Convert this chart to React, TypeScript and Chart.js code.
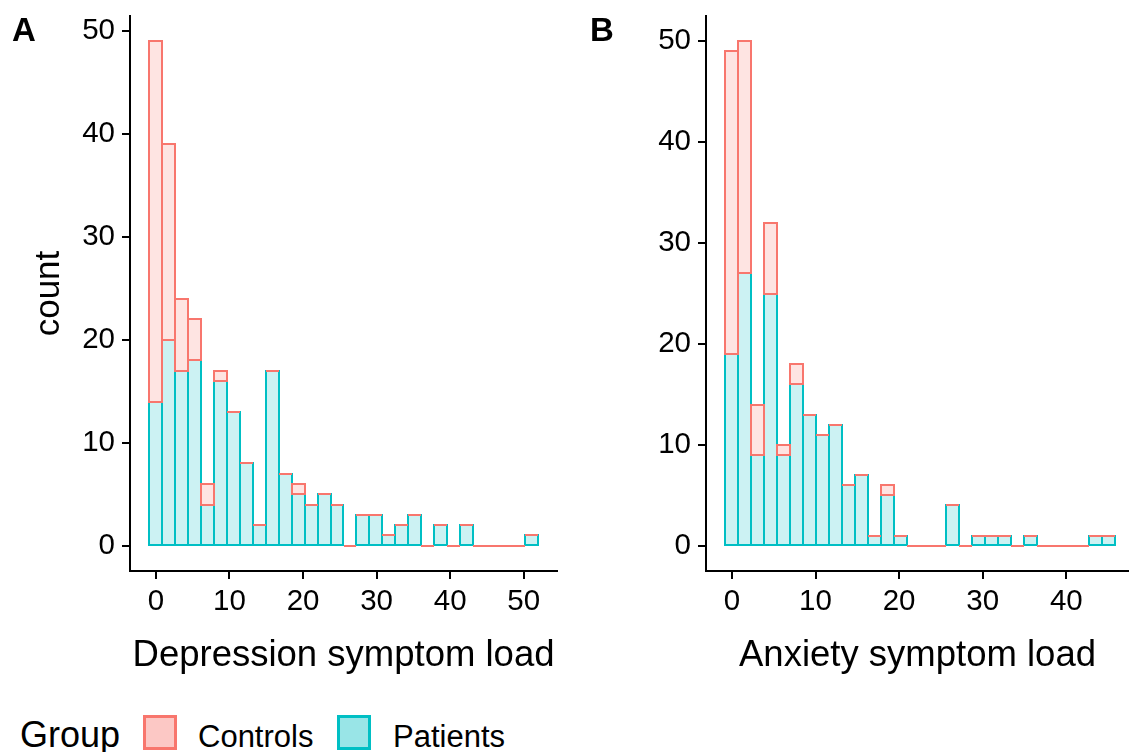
import React, { useEffect, useRef } from "react";
import { Chart, registerables } from "chart.js";

Chart.register(...registerables);

// ---------- data ----------
const GROUPS = ["Controls", "Patients"];

// bin centres (30 bins, ggplot default)
const DEP_BINS = [0, 1.76, 3.52, 5.28, 7.03, 8.79, 10.55, 12.31, 14.07, 15.83, 17.59, 19.34, 21.1, 22.86, 24.62, 26.38, 28.14, 29.9, 31.66, 33.41, 35.17, 36.93, 38.69, 40.45, 42.21, 43.97, 45.72, 47.48, 49.24, 51.0];
const DEP_PATIENTS = [14, 20, 17, 18, 4, 16, 13, 8, 2, 17, 7, 5, 4, 5, 4, 0, 3, 3, 1, 2, 3, 0, 2, 0, 2, 0, 0, 0, 0, 1];
const DEP_CONTROLS = [35, 19, 7, 4, 2, 1, 0, 0, 0, 0, 0, 1, 0, 0, 0, 0, 0, 0, 0, 0, 0, 0, 0, 0, 0, 0, 0, 0, 0, 0];

const ANX_BINS = [0, 1.55, 3.1, 4.66, 6.21, 7.76, 9.31, 10.86, 12.41, 13.97, 15.52, 17.07, 18.62, 20.17, 21.72, 23.28, 24.83, 26.38, 27.93, 29.48, 31.03, 32.59, 34.14, 35.69, 37.24, 38.79, 40.34, 41.9, 43.45, 45.0];
const ANX_PATIENTS = [19, 27, 9, 25, 9, 16, 13, 11, 12, 6, 7, 1, 5, 1, 0, 0, 0, 4, 0, 1, 1, 1, 0, 1, 0, 0, 0, 0, 1, 1];
const ANX_CONTROLS = [30, 23, 5, 7, 1, 2, 0, 0, 0, 0, 0, 0, 1, 0, 0, 0, 0, 0, 0, 0, 0, 0, 0, 0, 0, 0, 0, 0, 0, 0];

const Y_TICKS = [0, 10, 20, 30, 40, 50];
const DEP_X_TICKS = [0, 10, 20, 30, 40, 50];
const ANX_X_TICKS = [0, 10, 20, 30, 40];

const DEP_X_RANGE = [-3.52, 54.52];
const ANX_X_RANGE = [-3.1, 47.5];
const DEP_Y_RANGE = [-2.45, 51.45];
const ANX_Y_RANGE = [-2.5, 52.5];

// ---------- styles ----------
const FONT = "'Liberation Sans', Arial, Helvetica, sans-serif";
const COL_CONTROLS = "#F8766D";
const COL_PATIENTS = "#00BFC4";
const FILL_CONTROLS = "rgba(248,118,109,0.2)";
const FILL_PATIENTS = "rgba(0,191,196,0.2)";

const outlinePlugin = {
  id: "histOutline",
  afterDatasetsDraw(chart: any) {
    const ctx = chart.ctx;
    ctx.save();
    ctx.lineWidth = 2;
    chart.data.datasets.forEach((ds: any, i: number) => {
      const meta = chart.getDatasetMeta(i);
      ctx.strokeStyle = ds.outlineColor;
      meta.data.forEach((el: any) => {
        const { x, y, base, width } = el.getProps(["x", "y", "base", "width"], true);
        const l = Math.round(x - width / 2);
        const r = Math.round(x + width / 2);
        const top = Math.round(Math.min(y, base));
        const bot = Math.round(Math.max(y, base));
        ctx.beginPath();
        if (bot - top < 0.5) {
          ctx.moveTo(l, top);
          ctx.lineTo(r, top);
        } else {
          ctx.rect(l, top, r - l, bot - top);
        }
        ctx.stroke();
      });
    });
    ctx.restore();
  },
};

type PanelProps = {
  bins: number[];
  patients: number[];
  controls: number[];
  xRange: number[];
  yRange: number[];
  xTicks: number[];
  xTitle: string;
  yTitle?: string;
  left: number;
  width: number;
  yAxisWidth: number;
  padRight: number;
};

function Panel(p: PanelProps) {
  const ref = useRef<HTMLCanvasElement | null>(null);
  useEffect(() => {
    if (!ref.current) return;
    const tickFont = { family: FONT, size: 29.5, lineHeight: 1 };
    const gridOpts = {
      drawOnChartArea: false,
      drawTicks: true,
      offset: false,
      tickLength: 8,
      tickWidth: 2,
      lineWidth: 2,
      tickColor: "#000",
      color: "#000",
    };
    const chart = new Chart(ref.current, {
      type: "bar",
      data: {
        datasets: [
          {
            label: GROUPS[1],
            data: p.bins.map((b, i) => ({ x: b, y: p.patients[i] })),
            backgroundColor: FILL_PATIENTS,
            borderWidth: 0,
            barPercentage: 1,
            categoryPercentage: 1,
            stack: "g",
            outlineColor: COL_PATIENTS,
          } as any,
          {
            label: GROUPS[0],
            data: p.bins.map((b, i) => ({ x: b, y: p.controls[i] })),
            backgroundColor: FILL_CONTROLS,
            borderWidth: 0,
            barPercentage: 1,
            categoryPercentage: 1,
            stack: "g",
            outlineColor: COL_CONTROLS,
          } as any,
        ],
      },
      options: {
        animation: false,
        responsive: false,
        events: [],
        layout: { padding: { top: 16, right: p.padRight, left: 0, bottom: 0 } },
        plugins: { legend: { display: false }, tooltip: { enabled: false } },
        scales: {
          x: {
            type: "linear",
            min: p.xRange[0],
            max: p.xRange[1],
            offset: false,
            afterBuildTicks: (s: any) => {
              s.ticks = p.xTicks.map((v) => ({ value: v }));
            },
            afterFit: (s: any) => {
              s.height = 129;
              s.paddingLeft = 0;
              s.paddingRight = 0;
            },
            grid: gridOpts,
            border: { display: true, color: "#000", width: 2 },
            ticks: {
              color: "#000",
              font: tickFont,
              padding: 8,
              maxRotation: 0,
              autoSkip: false,
              callback: (v: any) => String(v),
            },
            title: {
              display: true,
              text: p.xTitle,
              color: "#000",
              font: { family: FONT, size: 36.5, lineHeight: 1.2 },
              padding: { top: 0, bottom: 22 },
            },
          },
          y: {
            type: "linear",
            min: p.yRange[0],
            max: p.yRange[1],
            stacked: true,
            afterBuildTicks: (s: any) => {
              s.ticks = Y_TICKS.map((v) => ({ value: v }));
            },
            afterFit: (s: any) => {
              s.width = p.yAxisWidth;
              s.paddingTop = 0;
              s.paddingBottom = 0;
            },
            grid: gridOpts,
            border: { display: true, color: "#000", width: 2 },
            ticks: {
              color: "#000",
              font: tickFont,
              padding: 7,
              autoSkip: false,
              callback: (v: any) => String(v),
            },
            title: {
              display: !!p.yTitle,
              text: p.yTitle || "",
              color: "#000",
              font: { family: FONT, size: 35, lineHeight: 1.2 },
              padding: { top: 28, bottom: 0 },
            },
          },
        },
      } as any,
      plugins: [outlinePlugin],
    });
    return () => chart.destroy();
  }, []);
  return (
    <canvas
      ref={ref}
      width={p.width}
      height={700}
      style={{ position: "absolute", left: p.left, top: 0, width: p.width, height: 700, display: "block" }}
    />
  );
}

const textBase: React.CSSProperties = {
  position: "absolute",
  fontFamily: FONT,
  color: "#000",
  whiteSpace: "nowrap",
};

export default function App() {
  return (
    <div
      style={{
        position: "absolute",
        left: 0,
        top: 0,
        width: 1129,
        height: 752,
        background: "#fff",
        overflow: "hidden",
      }}
    >
      <Panel
        bins={DEP_BINS}
        patients={DEP_PATIENTS}
        controls={DEP_CONTROLS}
        xRange={DEP_X_RANGE}
        yRange={DEP_Y_RANGE}
        xTicks={DEP_X_TICKS}
        xTitle="Depression symptom load"
        yTitle="count"
        left={0}
        width={580}
        yAxisWidth={130}
        padRight={23}
      />
      <Panel
        bins={ANX_BINS}
        patients={ANX_PATIENTS}
        controls={ANX_CONTROLS}
        xRange={ANX_X_RANGE}
        yRange={ANX_Y_RANGE}
        xTicks={ANX_X_TICKS}
        xTitle="Anxiety symptom load"
        left={580}
        width={549}
        yAxisWidth={126}
        padRight={0}
      />
      <div style={{ ...textBase, left: 12, top: 13, fontSize: 33, lineHeight: "33px", fontWeight: "bold" }}>A</div>
      <div style={{ ...textBase, left: 590, top: 13, fontSize: 33, lineHeight: "33px", fontWeight: "bold" }}>B</div>

      <div style={{ ...textBase, left: 20, top: 716.5, fontSize: 36, lineHeight: "36px" }}>Group</div>
      <div
        style={{
          position: "absolute",
          left: 143,
          top: 715,
          width: 34,
          height: 35,
          boxSizing: "border-box",
          border: `3px solid ${COL_CONTROLS}`,
          background: "#FCC8C5",
        }}
      />
      <div style={{ ...textBase, left: 198, top: 720.8, fontSize: 31, lineHeight: "31px" }}>{GROUPS[0]}</div>
      <div
        style={{
          position: "absolute",
          left: 337,
          top: 715,
          width: 34,
          height: 35,
          boxSizing: "border-box",
          border: `3px solid ${COL_PATIENTS}`,
          background: "#99E5E7",
        }}
      />
      <div style={{ ...textBase, left: 393, top: 720.8, fontSize: 31, lineHeight: "31px" }}>{GROUPS[1]}</div>
    </div>
  );
}
